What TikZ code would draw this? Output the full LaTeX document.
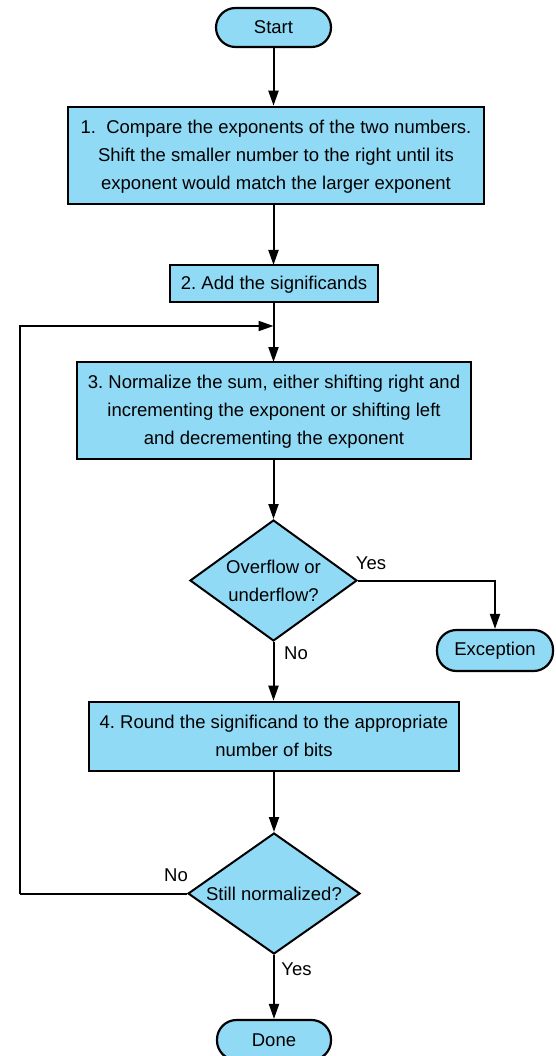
\documentclass[tikz,border=0pt]{standalone}
\usepackage{fontspec}
\setmainfont{Liberation Sans}
\usetikzlibrary{shapes.geometric,arrows.meta}
\definecolor{boxblue}{RGB}{145,218,245}
\frenchspacing
\begin{document}
\begin{tikzpicture}[x=1pt,y=-1pt,
  font=\fontsize{18.5}{28}\selectfont\frenchspacing,
  every node/.style={inner sep=0pt},
  stepbox/.style={draw=black,line width=2.6pt,fill=boxblue,rectangle,align=center,text depth=1pt},
  term/.style={draw=black,line width=2.2pt,fill=boxblue,rectangle,rounded corners=19.5pt,minimum height=40pt},
  decide/.style={draw=black,line width=2pt,fill=boxblue,diamond,align=center},
  conn/.style={line width=2pt,-{Triangle[length=15pt,width=10pt]}},
  plain/.style={line width=2pt},
  lbl/.style={font=\fontsize{18.5}{22}\selectfont}]
\useasboundingbox (0,0) rectangle (555,1056);
\clip (0,0) rectangle (555,1056);

\node[term,minimum width=115pt,minimum height=39pt] (start) at (273.5,27.5) {Start};
\node[stepbox,minimum width=416pt,minimum height=97pt] (b1) at (276,155.5)
  {1.\ \ Compare the exponents of the two numbers.\\Shift the smaller number to the right until its\\exponent would match the larger exponent};
\node[stepbox,minimum width=208pt,minimum height=37pt] (b2) at (274,283.5) {2. Add the significands};
\node[stepbox,minimum width=394pt,minimum height=97pt] (b3) at (274,410.5)
  {3. Normalize the sum, either shifting right and\\incrementing the exponent or shifting left\\and decrementing the exponent};
\node[decide,aspect=1.38,minimum width=167pt,minimum height=121pt] (d1) at (273.5,580.5) {Overflow or\\underflow?};
\node[term,minimum width=116pt,minimum height=41pt] (exc) at (495,650.5) {Exception};
\node[stepbox,minimum width=370pt,minimum height=69pt] (b4) at (274,736.5)
  {4. Round the significand to the appropriate\\number of bits};
\node[decide,aspect=1.42,minimum width=172pt,minimum height=121pt] (d2) at (274,893.5) {Still normalized?};
\node[term,minimum width=114pt,minimum height=40pt] (done) at (274,1040) {Done};

\coordinate (merge) at (273.5,326);
\coordinate (lc) at (20,893.5);

\draw[conn] (start.south) -- (start.south |- b1.north);
\draw[conn] (273.5,204) -- (273.5,265);
\draw[conn] (b2.south -| 273.5,0) -- (273.5,362);
\draw[plain] (lc) -- (d2.west);
\draw[conn] (lc) |- (merge);
\draw[conn] (b3.south -| d1.north) -- (d1.north);
\draw[conn] (d1.east) -| (exc.north);
\draw[conn] (d1.south) -- (d1.south |- b4.north);
\draw[conn] (b4.south -| d2.north) -- (d2.north);
\draw[conn] (d2.south) -- (done.north);

\node[lbl] (yes1) at (371,563) {Yes};
\node[lbl] (no1) at (296,653) {No};
\node[lbl] (no2) at (176,875.5) {No};
\node[lbl] (yes2) at (296.5,969) {Yes};
\end{tikzpicture}
\end{document}
